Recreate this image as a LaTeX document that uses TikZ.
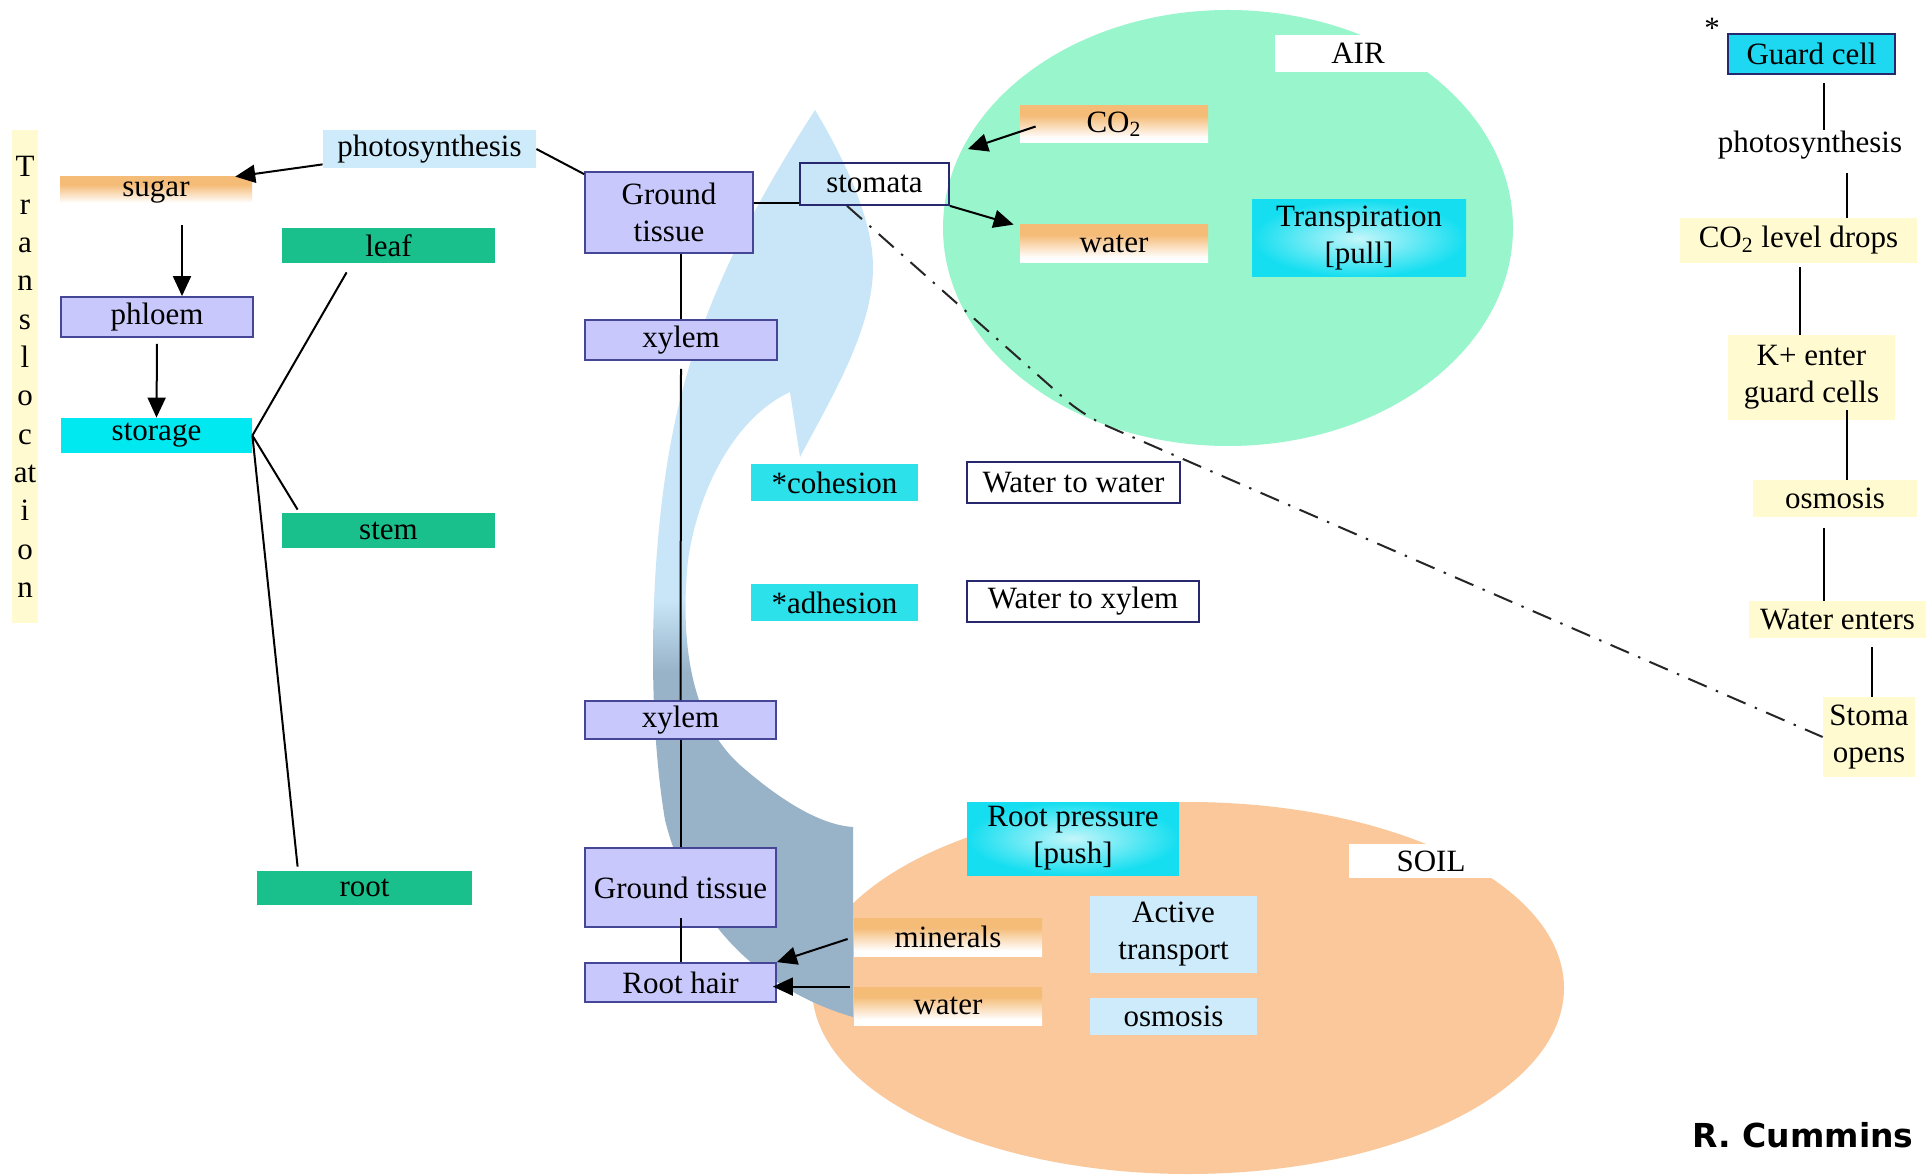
\documentclass[tikz,border=0pt]{standalone}
\usepackage{fontspec}
\setmainfont{Liberation Serif}
\newfontfamily\sigfont{DejaVu Sans}
\usetikzlibrary{arrows.meta}
\definecolor{lavfill}{RGB}{200,200,252}
\definecolor{lavdraw}{RGB}{70,70,150}
\definecolor{navy}{RGB}{40,40,110}
\definecolor{cyanC}{RGB}{0,232,240}
\definecolor{cohC}{RGB}{45,225,235}
\definecolor{lblue}{RGB}{205,235,250}
\definecolor{gbox}{RGB}{26,192,140}
\definecolor{yel}{RGB}{255,250,208}
\definecolor{airg}{RGB}{152,245,204}
\definecolor{peach}{RGB}{250,200,155}
\definecolor{arrlight}{RGB}{200,230,248}
\definecolor{arrdark}{RGB}{152,178,200}
\definecolor{orgtop}{RGB}{245,188,120}
\definecolor{guardC}{RGB}{30,215,240}
\definecolor{cyinner}{RGB}{195,246,250}
\definecolor{cyouter}{RGB}{20,222,240}
\pgfdeclareverticalshading{arrowsh}{100bp}{color(0bp)=(arrdark); color(44bp)=(arrdark); color(48bp)=(arrlight); color(100bp)=(arrlight)}
\pgfdeclareverticalshading{orgsh}{100bp}{color(0bp)=(white); color(32bp)=(white); color(62bp)=(orgtop); color(100bp)=(orgtop)}
\newcommand\mfs{\fontsize{15.5}{18.5}\selectfont}
\begin{document}
\begin{tikzpicture}[x=0.5pt,y=-0.5pt,
  box/.style={rectangle, inner sep=0pt, align=center, font=\mfs, text=black},
  lav/.style={box, fill=lavfill, draw=lavdraw, line width=0.9pt},
  wbox/.style={box, fill=white, draw=navy, line width=0.9pt},
  orng/.style={box, shade, shading=orgsh},
  grn/.style={box, fill=gbox},
  cyb/.style={box, fill=cyanC},
  coh/.style={box, fill=cohC},
  lb/.style={box, fill=lblue},
  yb/.style={box, fill=yel},
  radc/.style={box, inner color=cyinner, outer color=cyouter},
  whitebox/.style={box, fill=white},
  ln/.style={draw=black, line width=1pt},
  arr/.style={draw=black, line width=1pt, -{Triangle[length=10pt,width=9pt]}},
  dd/.style={draw=black!85, line width=1pt, dash pattern=on 10pt off 5pt on 1.2pt off 5pt, rounded corners=12pt}
]
\useasboundingbox (0,0) rectangle (1932,1176);
\fill[white] (0,0) rectangle (1932,1176);

% background ellipses
\fill[airg] (1228,228) ellipse [x radius=142.5pt, y radius=109pt];
\fill[peach] (1188,988) ellipse [x radius=188pt, y radius=93pt];

% big curved arrow
\shade[shading=arrowsh] (815,110) .. controls (845,160) and (873,220) .. (873,267)
  .. controls (873,330) and (830,400) .. (800,457) -- (790,392)
  .. controls (740,415) and (700,480) .. (688,560)
  .. controls (680,640) and (690,720) .. (740,765)
  .. controls (780,800) and (820,825) .. (853,827) -- (853,1017)
  .. controls (760,990) and (690,920) .. (665,820)
  .. controls (645,700) and (650,520) .. (680,400)
  .. controls (710,280) and (770,180) .. cycle;

% Translocation strip
\node[box, fill=yel, minimum width=13pt, minimum height=246.5pt, font=\fontsize{15.5}{19.15}\selectfont] (trans) at (25,376.5)
  {T\\r\\a\\n\\s\\l\\o\\c\\at\\i\\o\\n};

% left column
\node[orng, minimum width=96pt, minimum height=15pt] (sugar) at (156,192) {sugar};
\node[lb, minimum width=106.5pt, minimum height=19pt] (photo1) at (429.5,149) {photosynthesis};
\node[grn, minimum width=106.5pt, minimum height=17.5pt] (leaf) at (388.5,245.5) {leaf};
\node[lav, minimum width=96pt, minimum height=20pt] (phloem) at (157,317) {phloem};
\node[cyb, minimum width=95.5pt, minimum height=17.5pt] (storage) at (156.5,435.5) {storage};
\node[grn, minimum width=106.5pt, minimum height=17.5pt] (stem) at (388.5,530.5) {stem};
\node[grn, minimum width=107.5pt, minimum height=17pt] (root) at (364.5,888) {root};

% middle column
\node[lav, minimum width=84pt, minimum height=40.5pt] (gt1) at (669,212.5) {Ground\\tissue};
\node[box, draw=navy, line width=0.9pt, minimum width=74.5pt, minimum height=21pt] (stomata) at (874.5,184) {stomata};
\node[lav, minimum width=96pt, minimum height=20pt] (xylem1) at (681,340) {xylem};
\node[coh, minimum width=83.5pt, minimum height=18.5pt] (cohesion) at (834.5,482.5) {*cohesion};
\node[wbox, minimum width=106.5pt, minimum height=20.5pt] (w2w) at (1073.5,482.5) {Water to water};
\node[coh, minimum width=83.5pt, minimum height=18.5pt] (adhesion) at (834.5,602.5) {*adhesion};
\node[wbox, minimum width=116pt, minimum height=20.5pt] (w2x) at (1083,601.5) {Water to xylem};
\node[lav, minimum width=95.5pt, minimum height=19pt] (xylem2) at (680.5,720) {xylem};
\node[lav, minimum width=95.5pt, minimum height=39.5pt] (gt2) at (680.5,887.5) {Ground tissue};
\node[lav, minimum width=95.5pt, minimum height=19.5pt] (roothair) at (680.5,982.5) {Root hair};

% air
\node[whitebox, minimum width=83pt, minimum height=18.5pt] (air) at (1358,53.5) {AIR};
\node[orng, minimum width=94pt, minimum height=18.5pt] (co2) at (1114,124.5) {CO\textsubscript{2}};
\node[orng, minimum width=94pt, minimum height=19pt] (waterA) at (1114,244) {water};
\node[radc, minimum width=107pt, minimum height=38.5pt] (transp) at (1359,238.5) {Transpiration\\{[pull]}};

% soil
\node[radc, minimum width=106pt, minimum height=36.5pt] (rootpress) at (1073,838.5) {Root pressure\\{[push]}};
\node[whitebox, minimum width=82pt, minimum height=17pt] (soil) at (1431,861) {SOIL};
\node[orng, minimum width=94pt, minimum height=19pt] (minerals) at (948,937) {minerals};
\node[orng, minimum width=94pt, minimum height=19pt] (waterS) at (948,1006) {water};
\node[lb, minimum width=83.5pt, minimum height=38.5pt] (active) at (1173.5,934.5) {Active\\transport};
\node[lb, minimum width=83.5pt, minimum height=18.5pt] (osmS) at (1173.5,1016.5) {osmosis};

% right column
\node[box] (star) at (1712,28) {*};
\node[box, fill=guardC, draw=navy, line width=0.9pt, minimum width=83.5pt, minimum height=20pt] (guard) at (1811.5,54) {Guard cell};
\node[box, minimum width=94pt, minimum height=13pt] (photo2) at (1810,145) {photosynthesis};
\node[yb, minimum width=118.5pt, minimum height=22.5pt] (co2drop) at (1798.5,240.5) {CO\textsubscript{2} level drops};
\node[yb, minimum width=83.5pt, minimum height=42.5pt] (kplus) at (1811.5,377.5) {K+ enter\\guard cells};
\node[yb, minimum width=82pt, minimum height=18.5pt] (osm2) at (1835,498.5) {osmosis};
\node[yb, minimum width=88.5pt, minimum height=18.5pt] (wenter) at (1837.5,619.5) {Water enters};
\node[yb, minimum width=46pt, minimum height=40pt] (stoma) at (1869,737) {Stoma\\opens};

\node[box, font={\sigfont\bfseries\fontsize{16.5}{20}\selectfont}] (sig) at (1803,1135) {R. Cummins};

% connectors left
\draw[arr] ([yshift=2pt]photo1.south west) -- (sugar.11);
\draw[arr] ([xshift=13pt,yshift=-9pt]sugar.south) -- ([xshift=12.5pt]phloem.north);
\draw[arr] ([yshift=-3pt]phloem.south) -- (storage.north);
\draw[ln] (storage.east) -- ([xshift=32.5pt,yshift=-4.5pt]leaf.south west);
\draw[ln] (storage.east) -- ([xshift=8pt,yshift=1.5pt]stem.north west);
\draw[ln] (storage.east) -- ([xshift=20.5pt,yshift=2pt]root.north west);

% connectors middle
\draw[ln] (photo1.east) -- ([yshift=-1.5pt]gt1.north west);
\coordinate (sj) at ([yshift=1.5pt]stomata.south west);
\draw[ln] (sj) -- (sj -| gt1.east);
\draw[ln] (xylem1.north) -- (xylem1.north |- gt1.south);
\draw[ln] ([yshift=-4pt]xylem1.south) -- (xylem2.north);
\draw[ln] (xylem2.south) -- (gt2.north);
\draw[ln] ([yshift=5pt]gt2.south) -- (roothair.north);
\draw[arr] ([xshift=-3pt,yshift=-1pt]minerals.west) -- (roothair.north east);
\draw[arr] ([xshift=-2pt]waterS.north west) -- ([xshift=-2pt]waterS.north west -| roothair.east);

% air arrows
\draw[arr] ([xshift=8pt,yshift=-1pt]co2.west) -- ([xshift=9pt,yshift=6.5pt]stomata.north east);
\draw[arr] (stomata.south east) -- ([xshift=-3pt]waterA.north west);

% dash-dot
\coordinate (bend) at (1084,416);
\draw[dd] ([xshift=-13.75pt]stomata.south) -- (bend) -- (stoma.west);

% right column connectors
\draw[ln] ([xshift=6.25pt,yshift=-4pt]guard.south) -- ([xshift=7pt]photo2.north);
\draw[ln] ([xshift=18.5pt,yshift=-7pt]photo2.south) -- ([xshift=24.25pt]co2drop.north);
\draw[ln] ([xshift=0.75pt,yshift=-2pt]co2drop.south) -- ([xshift=-5.75pt]kplus.north);
\draw[ln] ([xshift=17.75pt,yshift=5pt]kplus.south) -- ([xshift=6pt]osm2.north);
\draw[ln] ([xshift=-5.5pt,yshift=-5.5pt]osm2.south) -- ([xshift=-6.75pt]wenter.north);
\draw[ln] ([xshift=17.25pt,yshift=-4.5pt]wenter.south) -- ([xshift=1.5pt]stoma.north);
\end{tikzpicture}
\end{document}
